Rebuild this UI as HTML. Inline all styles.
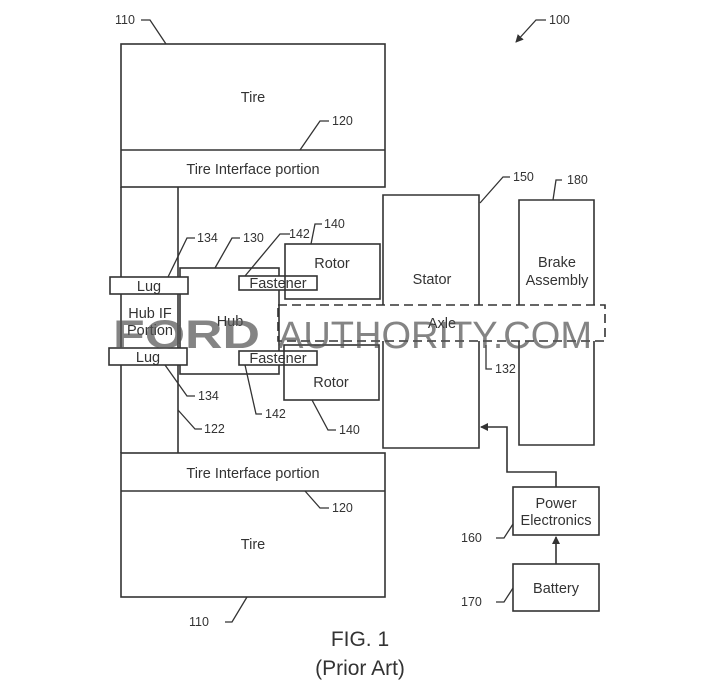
<!DOCTYPE html>
<html><head><meta charset="utf-8"><style>
html,body{margin:0;padding:0;background:#fff;}
svg{display:block;}
text{font-family:"Liberation Sans",Arial,sans-serif;fill:#333;}
</style></head><body>
<svg width="720" height="697" viewBox="0 0 720 697" xmlns="http://www.w3.org/2000/svg">
<defs><marker id="ah" markerWidth="8" markerHeight="8" refX="7" refY="4" orient="auto" markerUnits="userSpaceOnUse"><path d="M0,0 L8,4 L0,8 z" fill="#333"/></marker></defs>
<g fill="none" stroke="#333" stroke-width="1.6">
<rect x="121" y="44" width="264" height="143"/>
<line x1="121" y1="150" x2="385" y2="150"/>
<rect x="121" y="453" width="264" height="144"/>
<line x1="121" y1="491" x2="385" y2="491"/>
<line x1="121" y1="187" x2="121" y2="453"/>
<line x1="178" y1="187" x2="178" y2="453"/>
<rect x="180" y="268" width="99" height="106"/>
<rect x="110" y="277" width="78" height="17" fill="#fff"/>
<rect x="109" y="348" width="78" height="17" fill="#fff"/>
<rect x="239" y="276" width="78" height="14" fill="#fff"/>
<rect x="239" y="351" width="78" height="14" fill="#fff"/>
<rect x="285" y="244" width="95" height="55"/>
<rect x="284" y="345" width="95" height="55"/>
<polyline points="383,305 383,195 479,195 479,305"/>
<polyline points="383,341 383,448 479,448 479,341"/>
<polyline points="519,305 519,200 594,200 594,305"/>
<polyline points="519,341 519,445 594,445 594,341"/>
<rect x="278" y="305" width="327" height="36" stroke-dasharray="9,5"/>
<rect x="513" y="487" width="86" height="48"/>
<rect x="513" y="564" width="86" height="47"/>
<line x1="556" y1="564" x2="556" y2="537" marker-end="url(#ah)"/>
<polyline points="556,487 556,472 507,472 507,427 481,427" marker-end="url(#ah)"/>
<g stroke-width="1.3">
<polyline points="141,20 150,20 166,44"/>
<polyline points="546,20 536,20 516,42" marker-end="url(#ah)"/>
<polyline points="329,121 320,121 300,150"/>
<polyline points="329,508 320,508 305,491"/>
<polyline points="225,622 232,622 247,597"/>
<polyline points="195,238 187,238 168,277"/>
<polyline points="240,238 232,238 215,268"/>
<polyline points="290,234 280,234 245,276"/>
<polyline points="322,224 315,224 311,244"/>
<polyline points="510,177 503,177 480,203"/>
<polyline points="562,180 556,180 553,200"/>
<polyline points="195,396 187,396 165,365"/>
<polyline points="202,429 195,429 178,410"/>
<polyline points="262,414 256,414 245,365"/>
<polyline points="336,430 328,430 312,400"/>
<polyline points="492,369 486,369 486,345"/>
<polyline points="496,538 504,538 513,524"/>
<polyline points="496,602 504,602 513,588"/>
</g>
</g>
<g font-size="14.5" text-anchor="middle">
<text x="253" y="102">Tire</text>
<text x="253" y="174">Tire Interface portion</text>
<text x="253" y="478">Tire Interface portion</text>
<text x="253" y="549">Tire</text>
<text x="149" y="291">Lug</text>
<text x="148" y="362">Lug</text>
<text x="150" y="318">Hub IF</text>
<text x="150" y="335">Portion</text>
<text x="230" y="326">Hub</text>
<text x="278" y="288">Fastener</text>
<text x="278" y="363">Fastener</text>
<text x="332" y="268">Rotor</text>
<text x="331" y="387">Rotor</text>
<text x="432" y="284">Stator</text>
<text x="442" y="328">Axle</text>
<text x="557" y="267">Brake</text>
<text x="557" y="285">Assembly</text>
<text x="556" y="508">Power</text>
<text x="556" y="525">Electronics</text>
<text x="556" y="593">Battery</text>
<text x="360" y="646" font-size="21">FIG. 1</text>
<text x="360" y="675" font-size="21">(Prior Art)</text>
</g>
<g font-size="12.5">
<text x="115" y="24">110</text>
<text x="549" y="24">100</text>
<text x="332" y="125">120</text>
<text x="332" y="512">120</text>
<text x="189" y="626">110</text>
<text x="197" y="242">134</text>
<text x="243" y="242">130</text>
<text x="289" y="238">142</text>
<text x="324" y="228">140</text>
<text x="513" y="181">150</text>
<text x="567" y="184">180</text>
<text x="198" y="400">134</text>
<text x="204" y="433">122</text>
<text x="265" y="418">142</text>
<text x="339" y="434">140</text>
<text x="495" y="373">132</text>
<text x="461" y="542">160</text>
<text x="461" y="606">170</text>
</g>
<g opacity="0.72">
<text x="113" y="348" font-size="40" font-weight="bold" textLength="147" lengthAdjust="spacingAndGlyphs" style="fill:#555">FORD</text>
<text x="278" y="348" font-size="38" textLength="314" lengthAdjust="spacingAndGlyphs" style="fill:#555">AUTHORITY.COM</text>
</g>
</svg>
</body></html>
